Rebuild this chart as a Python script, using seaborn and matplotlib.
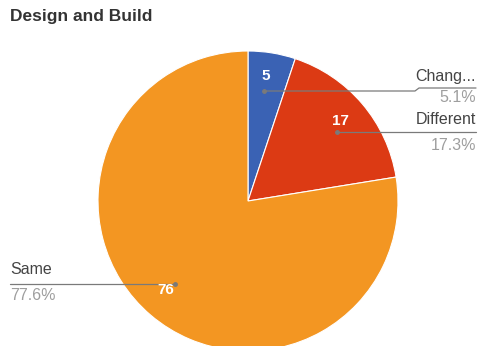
import matplotlib
matplotlib.use("Agg")
import matplotlib.pyplot as plt
import seaborn as sns

# Datos del gráfico
labels = ["Changed", "Different", "Same"]
short_labels = ["Chang...", "Different", "Same"]
values = [5, 17, 76]
colors = ["#3a62b4", "#dc3a14", "#f39622"]

sns.set_theme(style="white")
plt.rcParams["font.family"] = ["Liberation Sans", "DejaVu Sans"]

W, H = 482, 346
fig = plt.figure(figsize=(W / 100, H / 100), dpi=100)
ax = fig.add_axes([0, 0, 1, 1])
ax.set_xlim(0, W)
ax.set_ylim(H, 0)
ax.axis("off")

# pie en un eje propio (coordenadas en pixeles)
pax = fig.add_axes([0, 0, 1, 1])
cx, cy, r = 248, H - 201, 150
pax.pie(values, colors=sns.color_palette(colors), startangle=90, counterclock=False,
        center=(cx, cy), radius=r, wedgeprops=dict(edgecolor="white", linewidth=0.8))
pax.set_xlim(0, W)
pax.set_ylim(0, H)
pax.axis("off")

total = sum(values)
pcts = [f"{v / total * 100:.1f}%" for v in values]

ax.text(10, 16, "Design and Build", fontsize=12.5, fontweight="bold", color="#333333",
        va="center", ha="left")

lc = "#7a7a7a"
# Chang...
ax.plot([264, 415, 419, 476], [91, 91, 88, 88], color=lc, lw=0.9, zorder=5)
ax.plot(264, 91, "o", ms=2.5, color=lc, zorder=6)
ax.text(476, 76, short_labels[0], fontsize=11.5, color="#444444", ha="right", va="center")
ax.text(476, 98, pcts[0], fontsize=11.5, color="#9e9e9e", ha="right", va="center")
ax.text(266, 76, str(values[0]), fontsize=11, fontweight="bold", color="white", ha="center", va="center", zorder=7)

# Different
ax.plot([337, 476], [132, 132], color=lc, lw=0.9, zorder=5)
ax.plot(337, 132, "o", ms=2.5, color=lc, zorder=6)
ax.text(476, 120, short_labels[1], fontsize=11.5, color="#444444", ha="right", va="center")
ax.text(476, 145, pcts[1], fontsize=11.5, color="#9e9e9e", ha="right", va="center")
ax.text(340, 121, str(values[1]), fontsize=11, fontweight="bold", color="white", ha="center", va="center", zorder=7)

# Same
ax.plot([10, 175], [284, 284], color=lc, lw=0.9, zorder=5)
ax.plot(175, 284, "o", ms=2.5, color=lc, zorder=6)
ax.text(10, 270, short_labels[2], fontsize=11.5, color="#444444", ha="left", va="center")
ax.text(10, 296, pcts[2], fontsize=11.5, color="#9e9e9e", ha="left", va="center")
ax.text(166, 290, str(values[2]), fontsize=11, fontweight="bold", color="white", ha="center", va="center", zorder=7)

ax.set_zorder(3)
ax.patch.set_visible(False)
fig.savefig("out.png", dpi=100)
